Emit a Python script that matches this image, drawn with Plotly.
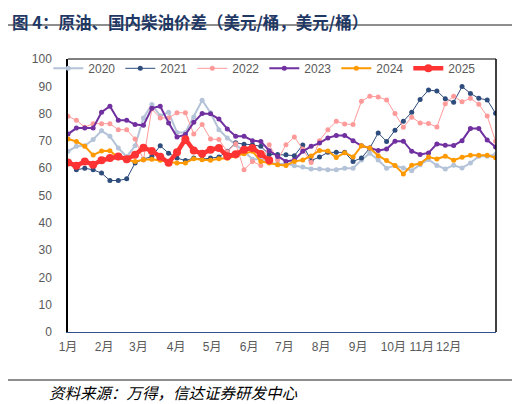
import plotly.graph_objects as go

# weekly spread, USD/bbl
years = ['2020', '2021', '2022', '2023', '2024', '2025']

y2020 = [66.2, 68, 68.2, 70.5, 73.7, 71.7, 67.4, 64.2, 68.2, 78.4,
         83.3, 79.2, 80.5, 73.1, 73.1, 78.8, 84.9, 80.3, 74.1, 71.1,
         68.6, 66.2, 63.3, 63.3, 62, 61.5, 61.6, 60.9, 60.4, 59.7,
         59.7, 59.4, 59.4, 60, 60, 63, 65.5, 63, 60, 61,
         60.1, 59.1, 61.3, 63.2, 61, 59.7, 61.1, 60.1, 61.9, 64.4,
         64.4, 65]
y2021 = [62, 59.4, 60, 59.4, 58.2, 55.5, 55.5, 56.1, 61.9, 63.3,
         64.3, 68.2, 65.5, 63.7, 62.8, 63.7, 63.3, 63.7, 64.1, 66.2,
         69.3, 68.8, 68.6, 68, 65, 65, 64.9, 64.6, 68.5, 62.8,
         64.1, 65.8, 65.8, 65.8, 62.5, 63.7, 67.4, 72.9, 69.8, 73.9,
         77.2, 80.5, 85.2, 88.6, 88.3, 85.4, 84.2, 89.9, 87.4, 85.6,
         85, 80.1]
y2022 = [79, 77.6, 75, 76.3, 76.3, 76.3, 74.1, 74.1, 70.7, 63,
         81.7, 78.4, 78.4, 80.3, 80.3, 72.5, 76, 70.7, 70.5, 66,
         69, 59.4, 62.5, 61, 68.6, 63, 68.6, 71.4, 67, 62.1,
         70.1, 74.1, 77.2, 76.2, 76, 84.5, 86.4, 86.1, 85, 80,
         75, 78.7, 76.6, 76.4, 75.1, 83.6, 86.4, 84.3, 85.6, 83.4,
         79.1, 69.9]
y2023 = [72.5, 74.7, 74.7, 74.7, 80.5, 82.7, 77.6, 77.6, 76, 75.7,
         82, 82.7, 76.6, 71.4, 72.3, 76.8, 80, 79.9, 78, 74.4,
         71.7, 71.7, 70.1, 69.8, 66.4, 64.3, 62.5, 63, 66.2, 68,
         69.2, 71.1, 72, 72, 70.1, 68.2, 67.4, 66.5, 67, 69.9,
         69.9, 66.2, 65, 65.6, 68.9, 68.4, 68.3, 70.1, 74.5, 74.5,
         70.3, 67.8]
y2024 = [70.7, 69.8, 68, 64.8, 66.3, 66.4, 63.8, 63, 62.5, 63.1,
         63.3, 62.9, 62.5, 61.9, 61.9, 63.5, 63.1, 62.9, 63.5, 63.6,
         64.5, 65.3, 66.2, 62.5, 61.9, 61.3, 61, 62.5, 63, 64.5,
         66.5, 66.3, 63.9, 65.7, 64.1, 68.2, 67.4, 64.6, 62.8, 61,
         57.9, 61.1, 61.7, 64.1, 63.4, 64.4, 62.9, 64, 64.7, 64.7,
         64.7, 63.8]
y2025 = [62.1, 60.9, 62.5, 61.3, 62.9, 63.7, 64.3, 63.3, 64.9, 67.5,
         66.3, 64.2, 62, 65.8, 70.6, 66.5, 65.3, 66.8, 67.4, 64.4,
         65.1, 66.8, 67.4, 65.2, 62.9]

month_labels = ['1月', '2月', '3月', '4月', '5月', '6月',
                '7月', '8月', '9月', '10月', '11月', '12月']
month_weeks = [0, 4.3, 8.4, 12.9, 17.2, 21.6, 25.8, 30.2, 34.6, 38.8, 42.2, 45.4]

series = [y2020, y2021, y2022, y2023, y2024, y2025]
styles = [
    dict(color='#B4C3D8', width=2, size=5),
    dict(color='#2E4C7C', width=1, size=5),
    dict(color='#FF9A9A', width=1, size=5),
    dict(color='#7030A0', width=2, size=5),
    dict(color='#FF9900', width=2, size=5),
    dict(color='#FF3333', width=4.5, size=8),
]

fig = go.Figure()
for name, vals, st in zip(years, series, styles):
    fig.add_trace(go.Scatter(
        x=list(range(len(vals))), y=vals, name=name, mode='lines+markers',
        line=dict(color=st['color'], width=st['width']),
        marker=dict(color=st['color'], size=st['size']),
    ))

grey = '#595959'
# page body has an 8px margin, so the figure is 8px smaller than the window
fig.update_layout(
    width=512, height=396,
    margin=dict(l=60, r=24, t=51, b=72),
    paper_bgcolor='white', plot_bgcolor='white',
    font=dict(family='Liberation Sans, Noto Sans CJK SC', size=12, color=grey),
    showlegend=True,
    legend=dict(orientation='h', x=-0.046, y=1.019, xanchor='left', yanchor='top',
                bgcolor='rgba(0,0,0,0)', itemwidth=30, entrywidth=27,
                font=dict(size=12, color=grey), tracegroupgap=0),
    xaxis=dict(range=[0, 51.05], tickmode='array', tickvals=month_weeks,
               ticktext=month_labels, showgrid=False, zeroline=False,
               showline=True, linecolor='#2F528F', linewidth=1,
               ticks='', tickangle=0, ticklabelstandoff=4, automargin=False),
    yaxis=dict(range=[0, 100], dtick=10, showgrid=False, zeroline=False,
               showline=True, linecolor='#000000', linewidth=1.5,
               ticks='', ticklabelstandoff=12, automargin=False),
)

# frame top and right
fig.add_shape(type='line', xref='paper', yref='paper', x0=0, x1=1, y0=1, y1=1,
              line=dict(color='#000000', width=1))
fig.add_shape(type='line', xref='paper', yref='paper', x0=1, x1=1, y0=0, y1=1,
              line=dict(color='#000000', width=1.5))

# title and source
fig.add_annotation(text='<b>图 4：原油、国内柴油价差（美元/桶，美元/桶）</b>',
                   xref='paper', yref='paper', x=-57 / 428, y=1 + 50 / 273,
                   xanchor='left', yanchor='top', showarrow=False, borderpad=0,
                   font=dict(family='Noto Sans CJK SC', size=16.5, color='#1F3864'))
fig.add_shape(type='line', xref='paper', yref='paper',
              x0=-60 / 428, x1=1 + 22 / 428, y0=1 + 34 / 273, y1=1 + 34 / 273,
              line=dict(color='#1F1F1F', width=1.2))
fig.add_shape(type='line', xref='paper', yref='paper',
              x0=-60 / 428, x1=1 + 22 / 428, y0=-48 / 273, y1=-48 / 273,
              line=dict(color='#1F1F1F', width=1.2))
fig.add_annotation(text='<i>资料来源：万得，信达证券研发中心</i>',
                   xref='paper', yref='paper', x=-21 / 428, y=-60 / 273,
                   xanchor='left', yanchor='middle', showarrow=False,
                   font=dict(family='Noto Sans CJK SC', size=15.5, color='#000000'))

fig.write_html("out.html")
